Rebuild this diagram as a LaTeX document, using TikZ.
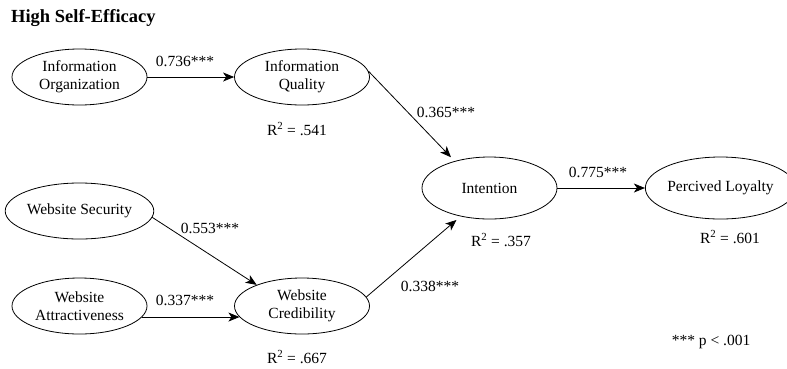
\documentclass[tikz,border=0pt]{standalone}
\usepackage{fontspec}
\setmainfont{Liberation Serif}
\usetikzlibrary{shapes.geometric,arrows.meta,calc}

\begin{document}
\begin{tikzpicture}[x=1pt,y=-1pt,
  construct/.style={ellipse,draw,line width=0.8pt,inner sep=0pt,
    minimum width=135pt,minimum height=56pt,align=center,
    font=\fontsize{15.5}{18}\selectfont},
  link/.style={line width=0.8pt,-{Stealth[length=11pt,width=9pt,inset=3pt]}},
  coef/.style={font=\fontsize{15.5}{18}\selectfont,inner sep=0pt},
  rsq/.style={font=\fontsize{15.5}{18}\selectfont,inner sep=0pt}
]
% page frame
\useasboundingbox (0,0) rectangle (787,368);

% title
\node[anchor=base west,inner sep=0pt,font=\fontsize{18.5}{20}\selectfont\bfseries]
  (title) at (11,22) {High Self-Efficacy};

% constructs
\node[construct] (io) at (79.5,77)  {Information\\Organization};
\node[construct] (iq) at (302,77)   {Information\\Quality};
\node[construct] (ws) at (79.5,211) {Website Security};
\node[construct] (wa) at (79.5,306) {Website\\Attractiveness};
\node[construct] (wc) at (302,306)  {Website\\Credibility};
\node[construct,minimum height=62pt] (in) at (489.5,188) {Intention};
\node[construct,minimum width=132pt,minimum height=62pt] (pl) at (720.5,188) {Percived Loyalty};

% structural paths
\draw[link] (io.east) -- (iq.west);
\draw[link] (iq.5) -- ($(in.143)+(-3,-4)$);
\draw[link] (ws.-5) -- (wc.155);
\draw[link] (wa.-10) -- (wc.-170);
\draw[link] (wc.8) -- ($(in.-138)+(-2,4)$);
\draw[link] (in.east) -- (pl.west);

% path coefficients
\node[coef] (c1) at (185,61)  {0.736***};
\node[coef] (c2) at (446,112) {0.365***};
\node[coef] (c3) at (210,228) {0.553***};
\node[coef] (c4) at (185,300) {0.337***};
\node[coef] (c5) at (430,286) {0.338***};
\node[coef] (c6) at (598,172) {0.775***};

% explained variance
\node[rsq] (r1) at (297,129) {R\textsuperscript{2} = .541};
\node[rsq] (r2) at (297,357) {R\textsuperscript{2} = .667};
\node[rsq] (r3) at (501,240) {R\textsuperscript{2} = .357};
\node[rsq] (r4) at (730,237) {R\textsuperscript{2} = .601};

% significance note
\node[coef] (note) at (711,342) {*** p < .001};
\end{tikzpicture}
\end{document}
